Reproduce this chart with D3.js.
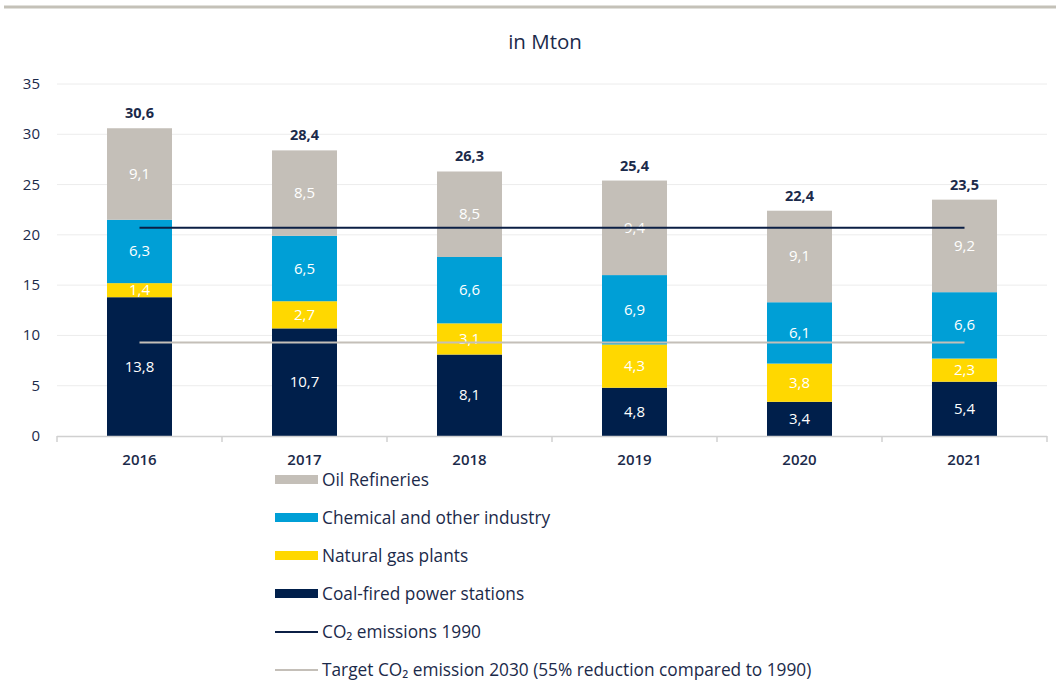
<!DOCTYPE html>
<html><head><meta charset="utf-8">
<script src="https://cdn.jsdelivr.net/npm/d3@7"></script>
<style>body{margin:0;background:#fff}svg{display:block}</style>
</head><body>
<script>
const years = ["2016","2017","2018","2019","2020","2021"];
const coal = [13.8,10.7,8.1,4.8,3.4,5.4];
const gas = [1.4,2.7,3.1,4.3,3.8,2.3];
const chem = [6.3,6.5,6.6,6.9,6.1,6.6];
const oil = [9.1,8.5,8.5,9.4,9.1,9.2];
const totals = [30.6,28.4,26.3,25.4,22.4,23.5];
const co2_1990 = 20.7;
const target2030 = 9.3;
const yTicks = [0,5,10,15,20,25,30,35];
const seriesNames = ["Coal-fired power stations","Natural gas plants","Chemical and other industry","Oil Refineries"];
const legendLabels = ["Oil Refineries","Chemical and other industry","Natural gas plants","Coal-fired power stations"];
const valuesBySeries = {"Coal-fired power stations":coal,"Natural gas plants":gas,"Chemical and other industry":chem,"Oil Refineries":oil};

const colors = {"Coal-fired power stations":"#001f4b","Natural gas plants":"#ffd800","Chemical and other industry":"#009fd6","Oil Refineries":"#c4bfb8"};
const W=1056,H=682;
const svg=d3.select("body").append("svg").attr("width",W).attr("height",H);
const navy="#1b2a4a";
const fmt=v=>String(v).replace(".",",");
svg.append("line").attr("x1",4).attr("x2",1056).attr("y1",7).attr("y2",7).attr("stroke","#c4c1b8").attr("stroke-width",3);
svg.append("text").attr("x",545).attr("y",49).attr("text-anchor","middle").attr("font-family","Open Sans, sans-serif").attr("font-size",20.5).attr("fill",navy).text("in Mton");

const x=d3.scaleBand().domain(years).range([57,1047]).paddingInner(0).paddingOuter(0);
const y=d3.scaleLinear().domain([0,35]).range([436,84]);

svg.append("g").selectAll("line").data(yTicks.filter(d=>d>0)).join("line")
 .attr("x1",57).attr("x2",1047).attr("y1",d=>y(d)).attr("y2",d=>y(d)).attr("stroke","#ececec").attr("stroke-width",1);
svg.append("g").selectAll("text").data(yTicks).join("text")
 .attr("x",40).attr("y",d=>y(d)+5).attr("text-anchor","end").attr("font-family","Open Sans, sans-serif").attr("font-size",15).attr("fill",navy).text(d=>d);

const rows=years.map((yr,i)=>{const r={year:yr};seriesNames.forEach(k=>r[k]=valuesBySeries[k][i]);return r;});
const stack=d3.stack().keys(seriesNames)(rows);
const bw=65;
const g=svg.append("g");
stack.forEach(s=>{
  g.append("g").selectAll("rect").data(s).join("rect")
   .attr("x",d=>x(d.data.year)+x.bandwidth()/2-bw/2).attr("width",bw)
   .attr("y",d=>y(d[1])).attr("height",d=>y(d[0])-y(d[1])).attr("fill",colors[s.key]);
});
svg.append("line").attr("x1",57).attr("x2",1047).attr("y1",436.5).attr("y2",436.5).attr("stroke","#d0d0d0").attr("stroke-width",1.5);
svg.append("g").selectAll("line").data(d3.range(years.length+1)).join("line")
 .attr("x1",i=>57+i*x.step()).attr("x2",i=>57+i*x.step()).attr("y1",436).attr("y2",442).attr("stroke","#d0d0d0").attr("stroke-width",1.5);
svg.append("g").selectAll("text").data(years).join("text")
 .attr("x",d=>x(d)+x.bandwidth()/2).attr("y",465).attr("text-anchor","middle").attr("font-family","Open Sans, sans-serif").attr("font-size",15).attr("font-weight",600).attr("fill",navy).text(d=>d);

const cx0=x(years[0])+x.bandwidth()/2, cx1=x(years[years.length-1])+x.bandwidth()/2;
svg.append("line").attr("x1",cx0).attr("x2",cx1).attr("y1",y(target2030)).attr("y2",y(target2030)).attr("stroke","#c4bfb8").attr("stroke-width",2);
stack.forEach(s=>{
  g.append("g").selectAll("text").data(s).join("text")
   .attr("x",d=>x(d.data.year)+x.bandwidth()/2).attr("y",d=>(y(d[0])+y(d[1]))/2+5)
   .attr("text-anchor","middle").attr("font-family","Open Sans, sans-serif").attr("font-size",15).attr("fill","#fff")
   .text((d,i)=>fmt(valuesBySeries[s.key][i]));
});
svg.append("line").attr("x1",cx0).attr("x2",cx1).attr("y1",y(co2_1990)).attr("y2",y(co2_1990)).attr("stroke","#0b1f45").attr("stroke-width",2);

svg.append("g").selectAll("text").data(years).join("text")
 .attr("x",d=>x(d)+x.bandwidth()/2).attr("y",(d,i)=>y(totals[i])-10).attr("text-anchor","middle")
 .attr("font-family","Open Sans, sans-serif").attr("font-weight","bold").attr("font-size",14.5).attr("fill",navy)
 .text((d,i)=>fmt(totals[i]));

const lg=svg.append("g");
legendLabels.forEach((n,i)=>{
  const yy=480+i*38;
  lg.append("rect").attr("x",275).attr("y",yy-5).attr("width",43).attr("height",9).attr("fill",colors[n]);
  lg.append("text").attr("x",322).attr("y",yy+6).attr("font-family","Open Sans, sans-serif").attr("font-size",17.3).attr("fill",navy).text(n);
});
const lineLeg=[["CO₂ emissions 1990","#0b1f45"],["Target CO₂ emission 2030 (55% reduction compared to 1990)","#c4bfb8"]];
lineLeg.forEach((l,j)=>{
  const yy=480+(4+j)*38;
  lg.append("line").attr("x1",275).attr("x2",318).attr("y1",yy).attr("y2",yy).attr("stroke",l[1]).attr("stroke-width",2);
  lg.append("text").attr("x",322).attr("y",yy+6).attr("font-family","Open Sans, sans-serif").attr("font-size",17.3).attr("fill",navy).text(l[0]);
});
</script>
</body></html>
